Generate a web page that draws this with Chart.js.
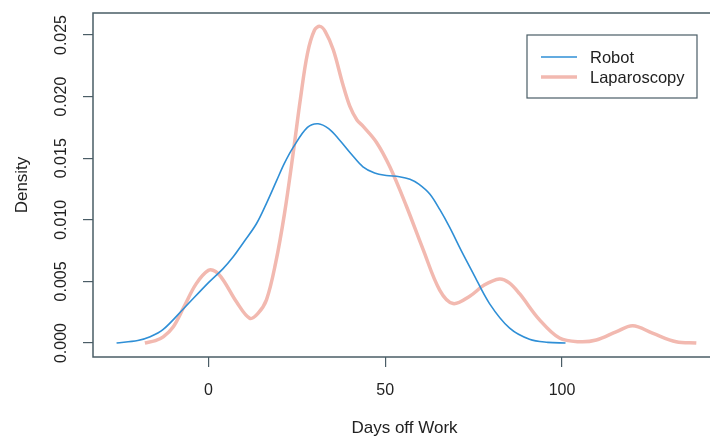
<!DOCTYPE html>
<html>
<head>
<meta charset="utf-8">
<script src="https://cdn.jsdelivr.net/npm/chart.js@4/dist/chart.umd.min.js"></script>
<style>
    html, body { margin: 0; padding: 0; background: #fff; overflow: hidden; }
    #wrap { width: 710px; height: 439px; overflow: hidden; }
    #box { width: 720px; height: 439px; position: relative; }
</style>
</head>
<body>
<div id="wrap"><div id="box"><canvas id="density-chart"></canvas></div></div>
<script>
(function () {
    'use strict';

    // Kernel density estimates (days off work vs density).
    var robotDays = [-26, -20, -16.5, -12.8, -7, 0, 4, 7, 10, 13.6, 16.5, 19.3, 21.5, 24, 28, 31, 34, 37,
        40.5, 43.7, 47, 50.3, 54, 57, 59.5, 62.6, 65.5, 68.2, 71.5, 74.8, 79.5, 85.2, 90.8, 96, 101];
    var robotDensity = [0, 0.0002, 0.0005, 0.0011, 0.0028, 0.0049, 0.0060, 0.0070, 0.0082, 0.0097, 0.0114,
        0.0132, 0.0146, 0.0159, 0.0175, 0.0178, 0.0174, 0.0165, 0.0153, 0.0143, 0.0138, 0.0136, 0.0135,
        0.0133, 0.0129, 0.0121, 0.0108, 0.0094, 0.0075, 0.0057, 0.0032, 0.0012, 0.0003, 0.00005, 0];

    var lapDays = [-18, -15, -12.8, -10, -7, -3.5, 0, 2, 4.2, 8, 11.7, 14, 16.4, 19, 21.5, 24, 26, 28, 30,
        31.5, 33, 35.3, 38, 40, 42, 43.7, 47.5, 51.3, 56, 60.7, 65.4, 69.2, 73.9, 78, 82.3, 85, 88, 93.6,
        99.3, 105, 109.7, 115.3, 120, 125.6, 132.3, 138];
    var lapDensity = [0, 0.0002, 0.0005, 0.0013, 0.0029, 0.0048, 0.0059, 0.0058, 0.0051, 0.0033, 0.0020,
        0.0024, 0.0035, 0.0065, 0.0105, 0.0155, 0.0198, 0.0235, 0.0254, 0.0257, 0.0253, 0.0238, 0.0210,
        0.0192, 0.0181, 0.0176, 0.0163, 0.0143, 0.0111, 0.0076, 0.0043, 0.0032, 0.0038, 0.0047, 0.0052,
        0.0049, 0.0040, 0.0019, 0.0004, 0.0001, 0.00024, 0.0009, 0.0014, 0.0008, 0.0001, 0];

    var seriesNames = ['Robot', 'Laparoscopy'];
    var xTicks = [0, 50, 100];
    var yTicks = [0, 0.005, 0.010, 0.015, 0.020, 0.025];
    var yTickLabels = ['0.000', '0.005', '0.010', '0.015', '0.020', '0.025'];

    var FONT = "'Liberation Sans', Arial, Helvetica, sans-serif";
    var AXIS = '#4a5d66';
    var TEXT = '#222222';

    function toPoints(xs, ys) {
        var pts = [];
        for (var i = 0; i < xs.length; i++) {
            pts.push({ x: xs[i], y: ys[i] });
        }
        return pts;
    }

    /**
     * Box around the plot region, rotated y tick labels and legend.
     */
    var decorations = {
        id: 'decorations',
        afterDraw: function (chart) {
            var ctx = chart.ctx;
            var a = chart.chartArea;
            var y = chart.scales.y;

            ctx.save();
            ctx.strokeStyle = AXIS;
            ctx.lineWidth = 1.5;
            ctx.strokeRect(a.left, a.top, a.right - a.left, a.bottom - a.top);

            // y tick labels, reading bottom to top like R
            ctx.fillStyle = TEXT;
            ctx.font = '16px ' + FONT;
            ctx.textAlign = 'center';
            ctx.textBaseline = 'middle';
            for (var i = 0; i < yTicks.length; i++) {
                var py = y.getPixelForValue(yTicks[i]);
                ctx.save();
                ctx.translate(62, py);
                ctx.rotate(-Math.PI / 2);
                ctx.fillText(yTickLabels[i], 0, 0);
                ctx.restore();
            }

            // legend
            var lx = 527, ly = 35;
            ctx.strokeStyle = AXIS;
            ctx.lineWidth = 1.2;
            ctx.strokeRect(lx, ly, 170, 63);
            ctx.textAlign = 'left';
            ctx.font = '16.5px ' + FONT;
            chart.data.datasets.forEach(function (ds, k) {
                var rowY = ly + 22 + k * 20;
                ctx.strokeStyle = ds.borderColor;
                ctx.lineWidth = ds.borderWidth;
                ctx.beginPath();
                ctx.moveTo(lx + 14, rowY);
                ctx.lineTo(lx + 50, rowY);
                ctx.stroke();
                ctx.fillStyle = TEXT;
                ctx.fillText(ds.label, lx + 63, rowY + 1);
            });
            ctx.restore();
        }
    };

    document.addEventListener('DOMContentLoaded', function () {
        var ctx = document.getElementById('density-chart').getContext('2d');

        new Chart(ctx, {
            type: 'scatter',
            data: {
                datasets: [{
                    label: seriesNames[0],
                    data: toPoints(robotDays, robotDensity),
                    showLine: true,
                    borderColor: '#2f8fd6',
                    borderWidth: 1.6,
                    pointRadius: 0,
                    tension: 0.35
                }, {
                    label: seriesNames[1],
                    data: toPoints(lapDays, lapDensity),
                    showLine: true,
                    borderColor: '#f2b9b0',
                    borderWidth: 3.5,
                    pointRadius: 0,
                    tension: 0.35
                }]
            },
            options: {
                responsive: true,
                maintainAspectRatio: false,
                animation: false,
                devicePixelRatio: 1,
                layout: {
                    padding: { top: 13, right: 4, left: 0, bottom: 0 }
                },
                plugins: {
                    legend: { display: false },
                    tooltip: { enabled: false }
                },
                scales: {
                    x: {
                        type: 'linear',
                        min: -32.67,
                        max: 143.57,
                        afterBuildTicks: function (scale) {
                            scale.ticks = xTicks.map(function (v) { return { value: v }; });
                        },
                        afterFit: function (scale) {
                            scale.height = 82;
                        },
                        border: { display: false },
                        grid: {
                            drawOnChartArea: false,
                            drawTicks: true,
                            tickLength: 10,
                            color: AXIS,
                            lineWidth: 1.2
                        },
                        ticks: {
                            color: TEXT,
                            padding: 14,
                            maxRotation: 0,
                            font: { family: FONT, size: 16 }
                        },
                        title: {
                            display: true,
                            text: 'Days off Work',
                            color: TEXT,
                            padding: { top: 0, bottom: 0 },
                            font: { family: FONT, size: 17 }
                        }
                    },
                    y: {
                        type: 'linear',
                        min: -0.001136,
                        max: 0.026786,
                        afterBuildTicks: function (scale) {
                            scale.ticks = yTicks.map(function (v) { return { value: v }; });
                        },
                        afterFit: function (scale) {
                            scale.width = 93;
                        },
                        border: { display: false },
                        grid: {
                            drawOnChartArea: false,
                            drawTicks: true,
                            tickLength: 10,
                            color: AXIS,
                            lineWidth: 1.2
                        },
                        ticks: {
                            color: 'rgba(0,0,0,0)',
                            font: { family: FONT, size: 16 }
                        },
                        title: {
                            display: true,
                            text: 'Density',
                            color: TEXT,
                            padding: { top: 12, bottom: 0 },
                            font: { family: FONT, size: 17 }
                        }
                    }
                }
            },
            plugins: [decorations]
        });
    });
})();
</script>
</body>
</html>
